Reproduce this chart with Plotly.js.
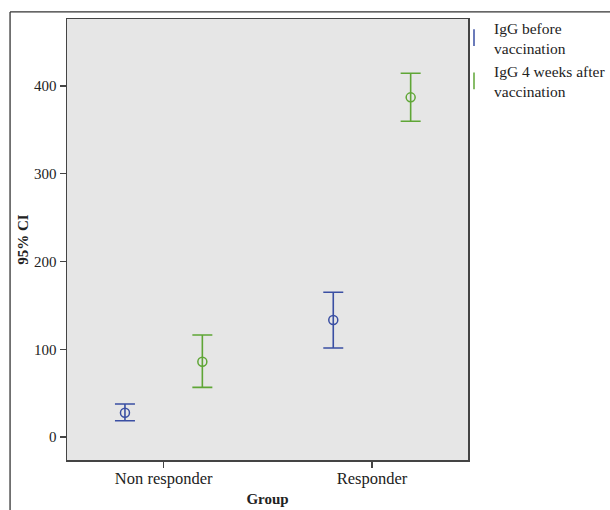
<!DOCTYPE html>
<html>
<head>
<meta charset="utf-8">
<script src="https://cdn.plot.ly/plotly-3.0.1.min.js"></script>
<style>
html,body{margin:0;padding:0;background:#fff;}
#chart{width:610px;height:510px;}
</style>
</head>
<body>
<div id="chart"></div>
<script>
// Data
var groups = ["Non responder", "Responder"];
var seriesNames = ["IgG before<br>vaccination", "IgG 4 weeks after<br>vaccination"];
var beforeMean = [27.7, 133.3];
var beforeUpper = [37.6, 164.9];
var beforeLower = [18.6, 101.4];
var afterMean = [85.8, 387.1];
var afterUpper = [116.2, 414.5];
var afterLower = [56.6, 359.8];
var yTicks = [0, 100, 200, 300, 400];

var colors = ["#3a4fa3", "#5fa636"];

function diff(a, b) { return a.map(function (v, i) { return v - b[i]; }); }

function ciTrace(mean, upper, lower, color, grp) {
  return {
    type: "scatter",
    mode: "markers",
    x: groups,
    y: mean,
    offsetgroup: grp,
    showlegend: false,
    marker: { symbol: "circle-open", size: 9, color: color, line: { width: 1.5, color: color } },
    error_y: {
      type: "data",
      symmetric: false,
      array: diff(upper, mean),
      arrayminus: diff(mean, lower),
      color: color,
      thickness: 1.6,
      width: 10
    },
    hoverinfo: "skip"
  };
}

function legendTrace(name, color, grp) {
  return {
    type: "scatter",
    mode: "markers",
    x: [null],
    y: [null],
    offsetgroup: grp,
    name: name,
    showlegend: true,
    marker: { symbol: "line-ns-open", size: 12, color: color, line: { width: 1.5, color: color } }
  };
}

var data = [
  ciTrace(beforeMean, beforeUpper, beforeLower, colors[0], "before"),
  ciTrace(afterMean, afterUpper, afterLower, colors[1], "after"),
  legendTrace(seriesNames[0], colors[0], "before"),
  legendTrace(seriesNames[1], colors[1], "after")
];

var serif = "Liberation Serif, Times New Roman, serif";

var layout = {
  width: 610,
  height: 510,
  margin: { l: 67, r: 142, t: 19, b: 50, autoexpand: false },
  paper_bgcolor: "#ffffff",
  plot_bgcolor: "#e6e6e6",
  font: { family: serif, size: 15, color: "#222" },
  scattermode: "group",
  scattergap: 0.257,
  showlegend: true,
  legend: {
    xref: "container", yref: "container",
    x: 454 / 610, y: 1 - 11 / 510, xanchor: "left", yanchor: "top",
    bgcolor: "rgba(0,0,0,0)",
    font: { family: serif, size: 15.5, color: "#222" }
  },
  xaxis: {
    type: "category",
    categoryorder: "array",
    categoryarray: groups,
    range: [-0.464, 1.461],
    showgrid: false,
    zeroline: false,
    automargin: false,
    showline: true, mirror: true, linecolor: "#444", linewidth: 1.5,
    ticks: "outside", ticklen: 6, tickwidth: 1.3, tickcolor: "#444",
    ticklabelstandoff: -3,
    tickfont: { family: serif, size: 16.5, color: "#222" },
    title: { text: "<b>Group</b>", font: { family: serif, size: 15, color: "#222" }, standoff: 6 }
  },
  yaxis: {
    range: [-26.2, 476.4],
    tickvals: yTicks,
    ticktext: yTicks.map(String),
    showgrid: false,
    zeroline: false,
    automargin: false,
    showline: true, mirror: true, linecolor: "#444", linewidth: 1.5,
    ticks: "outside", ticklen: 6, tickwidth: 1.3, tickcolor: "#444",
    tickfont: { family: serif, size: 15, color: "#222" },
    title: { text: "<b>95% CI</b>", font: { family: serif, size: 15, color: "#222" }, standoff: 2 }
  },
  shapes: [
    { type: "line", xref: "paper", yref: "paper", x0: -0.142, x1: 1.36, y0: 1.016, y1: 1.016, line: { color: "#333", width: 1.3 } },
    { type: "line", xref: "paper", yref: "paper", x0: -0.142, x1: -0.142, y0: 1.016, y1: -0.12, line: { color: "#333", width: 1.3 } }
  ]
};

Plotly.newPlot("chart", data, layout, { displayModeBar: false, staticPlot: true });
</script>
</body>
</html>
